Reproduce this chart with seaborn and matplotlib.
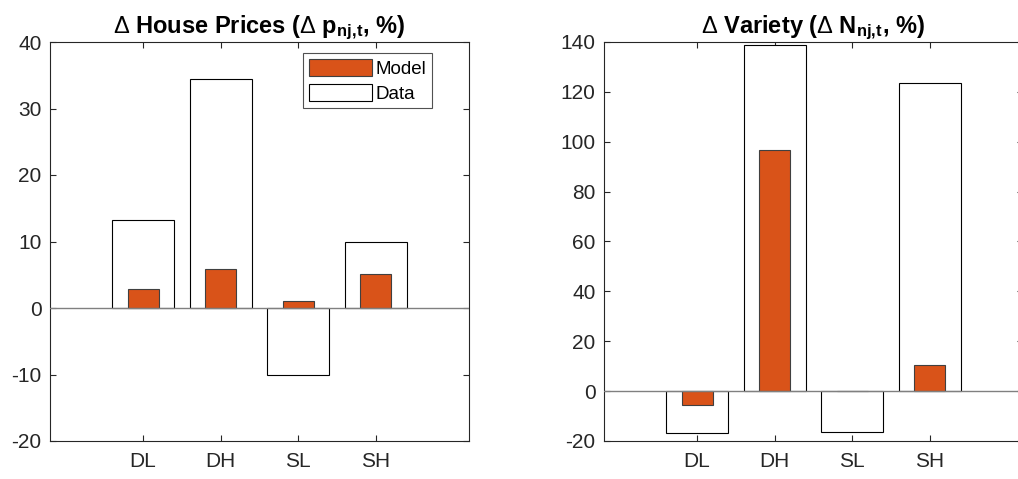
import matplotlib
matplotlib.use("Agg")
import matplotlib.pyplot as plt
import seaborn as sns
import pandas as pd
from matplotlib.patches import Patch

categories = ["DL", "DH", "SL", "SH"]
price_data = [13.2, 34.5, -10.1, 10.0]
price_model = [2.8, 5.9, 1.0, 5.1]
variety_data = [-16.9, 138.9, -16.5, 123.7]
variety_model = [-5.4, 96.8, 0.0, 10.3]

sns.set_theme(style="white")
plt.rcParams["font.family"] = ["Liberation Sans", "DejaVu Sans"]
plt.rcParams["mathtext.fontset"] = "custom"
plt.rcParams["mathtext.rm"] = "Liberation Sans"
plt.rcParams["mathtext.it"] = "Liberation Sans:italic"
plt.rcParams["mathtext.bf"] = "Liberation Sans:bold"
plt.rcParams["axes.unicode_minus"] = False

ORANGE = "#D95319"
AXC = "#262626"

fig = plt.figure(figsize=(10.18, 4.79), dpi=100)
ax1 = fig.add_axes([50 / 1018, 38 / 479, 419 / 1018, 399 / 479])
ax2 = fig.add_axes([604 / 1018, 38 / 479, 419 / 1018, 399 / 479])


def draw(ax, data, model, ylim, yticks, title):
    df_d = pd.DataFrame({"cat": categories, "val": data})
    df_m = pd.DataFrame({"cat": categories, "val": model})
    sns.barplot(data=df_d, x="cat", y="val", ax=ax, width=0.8, color="white",
                saturation=1, edgecolor="black", linewidth=0.8, zorder=2)
    sns.barplot(data=df_m, x="cat", y="val", ax=ax, width=0.4, color=ORANGE,
                saturation=1, edgecolor="#404040", linewidth=0.8, zorder=3)
    ax.axhline(0, color="#808080", lw=1.0, zorder=4)
    ax.set_xlim(-1.2, 4.2)
    ax.set_ylim(*ylim)
    ax.set_yticks(yticks)
    ax.set_xlabel("")
    ax.set_ylabel("")
    ax.set_title(title, fontsize=17, fontweight="bold", color="black", pad=5)
    for s in ax.spines.values():
        s.set_visible(True)
        s.set_color(AXC)
        s.set_linewidth(0.8)
    ax.tick_params(axis="both", which="both", direction="in", length=4, width=0.8,
                   color=AXC, labelcolor=AXC, labelsize=15,
                   top=True, right=True, bottom=True, left=True, pad=8)
    ax.tick_params(axis="y", pad=6)


draw(ax1, price_data, price_model, (-20, 40), range(-20, 41, 10),
     r"$\Delta$ House Prices ($\Delta$ p$_{\mathbf{nj,\!t}}$, %)")
draw(ax2, variety_data, variety_model, (-20, 140), range(-20, 141, 20),
     r"$\Delta$ Variety ($\Delta$ N$_{\mathbf{nj,\!t}}$, %)")

handles = [Patch(facecolor=ORANGE, edgecolor="#404040", linewidth=0.8, label="Model"),
           Patch(facecolor="white", edgecolor="black", linewidth=0.8, label="Data")]
leg = ax1.legend(handles=handles, loc="upper right", bbox_to_anchor=(0.912, 0.972),
                 borderaxespad=0, fontsize=13.5, frameon=True, fancybox=False,
                 edgecolor=AXC, handlelength=3.36, handleheight=1.05, handletextpad=0.2,
                 labelspacing=0.3, borderpad=0.3)
leg.get_frame().set_linewidth(0.8)
for t in leg.get_texts():
    t.set_color("black")

fig.savefig("out.png", dpi=100, facecolor="white")
